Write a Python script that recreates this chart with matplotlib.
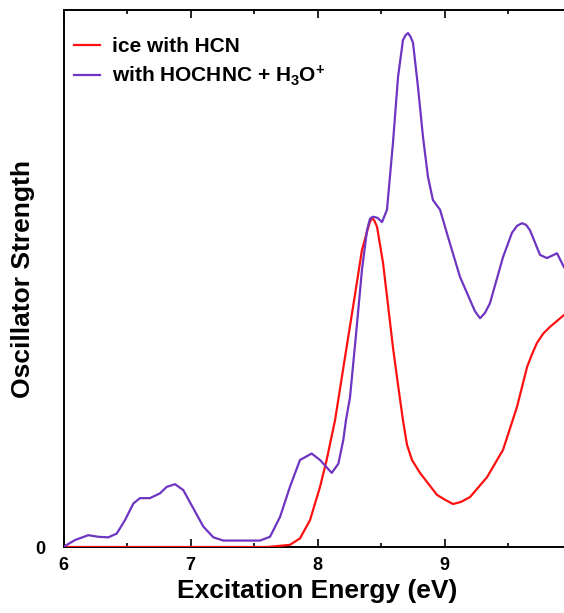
import matplotlib
matplotlib.use("Agg")
import matplotlib.pyplot as plt
from matplotlib.ticker import MultipleLocator

plt.rcParams['font.family'] = ['Liberation Sans', 'DejaVu Sans']
plt.rcParams['font.weight'] = 'bold'
plt.rcParams['mathtext.fontset'] = 'custom'
plt.rcParams['mathtext.rm'] = 'Liberation Sans:bold'
plt.rcParams['mathtext.it'] = 'Liberation Sans:bold'
plt.rcParams['mathtext.bf'] = 'Liberation Sans:bold'

# ---- data ----
hcn_x = [6.00, 7.60, 7.652, 7.783, 7.862, 7.941, 8.020, 8.072, 8.138, 8.217, 8.296,
         8.350, 8.390, 8.409, 8.429, 8.449, 8.469, 8.516, 8.555, 8.594, 8.634,
         8.673, 8.705, 8.744, 8.807, 8.941, 9.004, 9.067, 9.130, 9.201, 9.335,
         9.461, 9.571, 9.650, 9.689, 9.728, 9.776, 9.831, 9.941]
hcn_y = [0.000, 0.000, 0.001, 0.004, 0.016, 0.050, 0.112, 0.162, 0.236, 0.354, 0.471,
         0.553, 0.587, 0.603, 0.613, 0.607, 0.596, 0.529, 0.451, 0.372, 0.302,
         0.236, 0.190, 0.162, 0.138, 0.097, 0.088, 0.080, 0.084, 0.093, 0.130,
         0.181, 0.261, 0.335, 0.359, 0.380, 0.397, 0.410, 0.432]

hoc_x = [6.000, 6.012, 6.091, 6.195, 6.274, 6.353, 6.419, 6.484, 6.550, 6.602,
         6.681, 6.760, 6.813, 6.878, 6.943, 7.022, 7.101, 7.180, 7.258, 7.547,
         7.626, 7.705, 7.783, 7.862, 7.954, 8.020, 8.112, 8.164, 8.203, 8.224,
         8.256, 8.303, 8.350, 8.390, 8.413, 8.437, 8.472, 8.508, 8.547, 8.594,
         8.634, 8.673, 8.693, 8.713, 8.733, 8.752, 8.791, 8.831, 8.870, 8.909,
         8.965, 9.028, 9.122, 9.201, 9.240, 9.280, 9.319, 9.358, 9.461, 9.531,
         9.571, 9.610, 9.642, 9.673, 9.752, 9.807, 9.886, 9.941]
hoc_y = [0.000, 0.002, 0.013, 0.022, 0.019, 0.018, 0.025, 0.050, 0.081, 0.091,
         0.091, 0.100, 0.112, 0.117, 0.106, 0.072, 0.038, 0.018, 0.012, 0.012,
         0.019, 0.056, 0.112, 0.162, 0.174, 0.162, 0.138, 0.155, 0.199, 0.236,
         0.279, 0.395, 0.516, 0.590, 0.611, 0.615, 0.613, 0.605, 0.628, 0.752,
         0.875, 0.944, 0.953, 0.957, 0.950, 0.939, 0.857, 0.763, 0.689, 0.646,
         0.628, 0.577, 0.503, 0.460, 0.439, 0.426, 0.436, 0.454, 0.540, 0.585,
         0.598, 0.603, 0.600, 0.590, 0.544, 0.538, 0.547, 0.521]

labels = ['ice with HCN', 'with HOCHNC + H$_{3}$O$^{+}$']
colors = ['#FF1010', '#6E35C2']

fig = plt.figure(figsize=(5.64, 6.13), dpi=100)
ax = fig.add_axes([63.5 / 564, 66 / 613, 508 / 564, 537 / 613])

ax.plot(hcn_x, hcn_y, color=colors[0], lw=1.6, label=labels[0], zorder=3,
        solid_joinstyle='round')
ax.plot(hoc_x, hoc_y, color=colors[1], lw=1.6, label=labels[1], zorder=3,
        solid_joinstyle='round')

ax.set_xlim(6, 10)
ax.set_ylim(0, 1)
ax.xaxis.set_minor_locator(MultipleLocator(0.5))
ax.set_xticks([6, 7, 8, 9])
ax.set_yticks([0])
ax.set_yticklabels(['0'])
ax.tick_params(axis='x', which='major', direction='in', length=6, width=1.2,
               top=True, labelsize=13, pad=7)
ax.tick_params(axis='x', which='minor', direction='in', length=3, width=1.2, top=True)
ax.tick_params(axis='y', length=0, labelsize=13, pad=13)
for s in ax.spines.values():
    s.set_linewidth(1.4)

ax.set_xlabel('Excitation Energy (eV)', fontsize=19, fontweight='bold', labelpad=4)
ax.set_ylabel('Oscillator Strength', fontsize=19, fontweight='bold')
ax.yaxis.set_label_coords(-0.056, 0.5)

leg = ax.legend(loc='upper left', bbox_to_anchor=(0.021, 0.95), frameon=False,
                fontsize=15, handlelength=1.25, handletextpad=0.55,
                labelspacing=0.35, borderpad=0, borderaxespad=0)
for t in leg.get_texts():
    t.set_fontweight('bold')

fig.savefig('out.png', dpi=100)
